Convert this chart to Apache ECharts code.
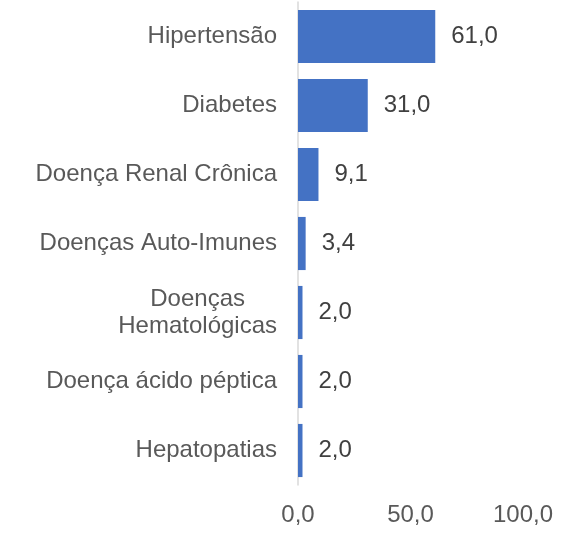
<!DOCTYPE html>
<html lang="pt">
<head>
  <meta charset="UTF-8">
  <title>Comorbidades</title>
  <script src="https://cdn.jsdelivr.net/npm/echarts@6/dist/echarts.min.js"></script>
  <style>
    html, body { margin: 0; padding: 0; background: #fff; }
    #chart { width: 577px; height: 533px; }
  </style>
</head>
<body>
  <div id="chart"></div>
  <script>
    // categories top to bottom
    const categories = [
      'Hipertensão',
      'Diabetes',
      'Doença Renal Crônica',
      'Doenças Auto-Imunes',
      'Doenças Hematológicas',
      'Doença ácido péptica',
      'Hepatopatias'
    ];
    const values = [61.0, 31.0, 9.1, 3.4, 2.0, 2.0, 2.0];
    const xTicks = [0, 50, 100];

    const FONT = "'Liberation Sans', Arial, sans-serif";
    const fmt = v => v.toFixed(1).replace('.', ',');

    const chart = echarts.init(document.getElementById('chart'));
    chart.setOption({
      animation: false,
      textStyle: { fontFamily: FONT },
      grid: { left: 298, right: 54, top: 2, bottom: 48 },
      xAxis: {
        type: 'value',
        min: xTicks[0],
        max: xTicks[xTicks.length - 1],
        interval: xTicks[1] - xTicks[0],
        axisLine: { show: false },
        axisTick: { show: false },
        splitLine: { show: false },
        axisLabel: {
          formatter: fmt,
          color: '#595959',
          fontFamily: FONT,
          fontSize: 24,
          margin: 18
        }
      },
      yAxis: {
        type: 'category',
        inverse: true,
        data: categories,
        axisLine: { show: true, lineStyle: { color: '#d9d9d9', width: 1.5 } },
        axisTick: { show: false },
        axisLabel: {
          color: '#595959',
          fontFamily: FONT,
          fontSize: 24,
          margin: 21,
          formatter: function (v) {
            // long label is wrapped onto two centred lines
            if (v === 'Doenças Hematológicas') return '{c|Doenças}\n{c|Hematológicas}';
            return v;
          },
          rich: {
            c: { align: 'center', fontFamily: FONT, fontSize: 24, color: '#595959', lineHeight: 27 }
          }
        }
      },
      series: [{
        type: 'bar',
        data: values,
        barCategoryGap: '23%',
        itemStyle: { color: '#4472C4' },
        label: {
          show: true,
          position: 'right',
          distance: 16,
          color: '#404040',
          fontFamily: FONT,
          fontSize: 24,
          formatter: p => fmt(p.value)
        }
      }]
    });
  </script>
</body>
</html>
